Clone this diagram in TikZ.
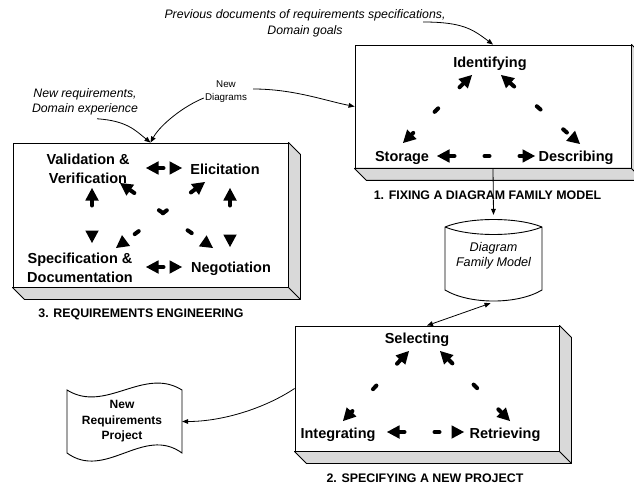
\documentclass[tikz,border=0pt]{standalone}
\usepackage{fontspec}
\setmainfont{Liberation Sans}
\usetikzlibrary{arrows.meta}

\tikzset{
  box/.style={draw, fill=white, line width=0.9pt, inner sep=0pt},
  slab/.style={draw, fill=black!15, line width=0.9pt, line join=round},
  lbl/.style={font=\bfseries\fontsize{14.5}{19}\selectfont, align=center, inner sep=2pt},
  title/.style={font=\bfseries\fontsize{12.4}{15}\selectfont},
  note/.style={font=\itshape\fontsize{12.3}{15.5}\selectfont, align=center},
  bigtip/.tip={Triangle[length=12.5pt,width=13.5pt,line width=0pt]},
  smalltip/.tip={Triangle[length=6pt,width=5pt,line width=0pt]},
  dasharrow/.style={line width=4pt, line cap=round, dash pattern=on 5pt off 30pt, bigtip-bigtip},
  link/.style={line width=0.8pt, -smalltip},
}

\begin{document}
\begin{tikzpicture}[x=1pt,y=-1pt]
\useasboundingbox (0,0) rectangle (634,489);

\draw (493,106.5) node[box, minimum width=276pt, minimum height=123pt] (fix) {};
\draw (150.5,215) node[box, minimum width=275pt, minimum height=144pt] (reng) {};
\draw (427,388.5) node[box, minimum width=264pt, minimum height=125pt] (spec) {};

\foreach \b in {fix,reng,spec} {
  \draw[slab] (\b.north east) -- ++(12,12) |- ([shift={(12,12)}]\b.south west)
    -- (\b.south west) -- (\b.south east) -- cycle;
  \draw[line width=0.9pt] (\b.south east) -- ++(12,12);
}

\draw (490,64) node[lbl] (ident) {Identifying};
\draw (402,158) node[lbl] (stor) {Storage};
\draw (576,158) node[lbl] (desc) {Describing};

\draw (417,340) node[lbl] (sel) {Selecting};
\draw (338,435) node[lbl] (integ) {Integrating};
\draw (505,435) node[lbl] (retr) {Retrieving};

\draw (88,169) node[lbl] (valver) {Validation \&\\Verification};
\draw (225,169) node[lbl] (elic) {Elicitation};
\draw (80,268) node[lbl] (specdoc) {Specification \&\\Documentation};
\draw (231,269) node[lbl] (nego) {Negotiation};

\draw (487.5,195) node[title] (fixtitle) {1. FIXING A DIAGRAM FAMILY MODEL};
\draw (141,314) node[title] (rengtitle) {3. REQUIREMENTS ENGINEERING};
\draw (425,478) node[title] (spectitle) {2. SPECIFYING A NEW PROJECT};

\draw (305,23) node[note, font=\itshape\fontsize{12.3}{16}\selectfont] (prevdocs)
  {Previous documents of requirements specifications,\\Domain goals};
\draw (85,102) node[note, font=\itshape\fontsize{12.3}{15}\selectfont] (newreq)
  {New requirements,\\Domain experience};
\draw (226,92) node[font=\fontsize{9.8}{13}\selectfont, align=center, inner sep=1pt] (newdiag)
  {New\\Diagrams};

\draw (493.5,256) node[font=\itshape\fontsize{12.6}{15}\selectfont, align=center,
  minimum width=97pt, minimum height=82pt, inner sep=0pt] (dfm) {Diagram\\Family Model};
\draw[line width=0.9pt, shift={(dfm.center)}]
  (-48.5,-29) .. controls (-24,-39) and (24,-39) .. (48.5,-29) -- (48.5,34)
  .. controls (24,48.7) and (-24,48.7) .. (-48.5,34) -- cycle
  (-48.5,-29) .. controls (-24,-19) and (24,-19) .. (48.5,-29);

\draw (122,421.5) node[font=\bfseries\fontsize{12}{15.5}\selectfont, align=center,
  minimum width=115pt, minimum height=63pt, inner sep=0pt] (newproj) {New\\Requirements\\Project};
\draw[line width=0.9pt, shift={(124.5,421.5)}]
  (-57.5,-31.5) .. controls (-19,-7.5) and (19,-55.5) .. (57.5,-31.5) -- (57.5,31.5)
  .. controls (19,3.5) and (-19,59.5) .. (-57.5,31.5) -- cycle;

\draw[dasharrow] ([shift={(-18,11)}]ident.center) to ([shift={(1,-15)}]stor.center);
\draw[dasharrow] ([shift={(11,11)}]ident.center) to ([shift={(4,-14)}]desc.center);
\draw[dasharrow] ([shift={(35,-2)}]stor.center) to ([shift={(-41,-2)}]desc.center);

\draw[dasharrow] ([shift={(-8,11)}]sel.center) to ([shift={(5,-14)}]integ.center);
\draw[dasharrow] ([shift={(23,11)}]sel.center) to ([shift={(5,-14)}]retr.center);
\draw[dasharrow] ([shift={(49,-3)}]integ.center) to ([shift={(-41,-3)}]retr.center);

\draw[dasharrow] ([shift={(58,-1)}]valver.center) to ([shift={(-43,-1)}]elic.center);
\draw[dasharrow] ([shift={(66,-1)}]specdoc.center) to ([shift={(-49,-2)}]nego.center);
\draw[dasharrow] ([shift={(4,19)}]valver.center) to ([shift={(12,-25)}]specdoc.center);
\draw[dasharrow] ([shift={(5,19)}]elic.center) to ([shift={(-1,-22)}]nego.center);
\draw[dasharrow] ([shift={(32,14)}]valver.center) to ([shift={(-18,-21)}]nego.center);
\draw[dasharrow] ([shift={(-20,13)}]elic.center) to ([shift={(36,-20)}]specdoc.center);

\draw[link] ([shift={(-26,-1)}]prevdocs.east) .. controls +(40,0) and +(-20,-15) .. (fix.north);
\draw[link] ([shift={(12,0)}]newreq.south) .. controls +(30,2) and +(-15,-12) .. (reng.north);
\draw[link] ([shift={(0,6)}]newdiag.west) .. controls +(-20,8) and +(10,-18) .. (reng.north);
\draw[link] ([shift={(5,-3)}]newdiag.east) .. controls +(40,0) and +(-30,-6) .. (fix.west);
\draw[link] (fix.south) -- (dfm.north);
\draw[link, smalltip-smalltip] ([shift={(-3,6)}]dfm.south) -- (spec.north);
\draw[link] (spec.west) .. controls +(-30,20) and +(40,0) .. ([shift={(2.5,0)}]newproj.east);
\end{tikzpicture}
\end{document}
